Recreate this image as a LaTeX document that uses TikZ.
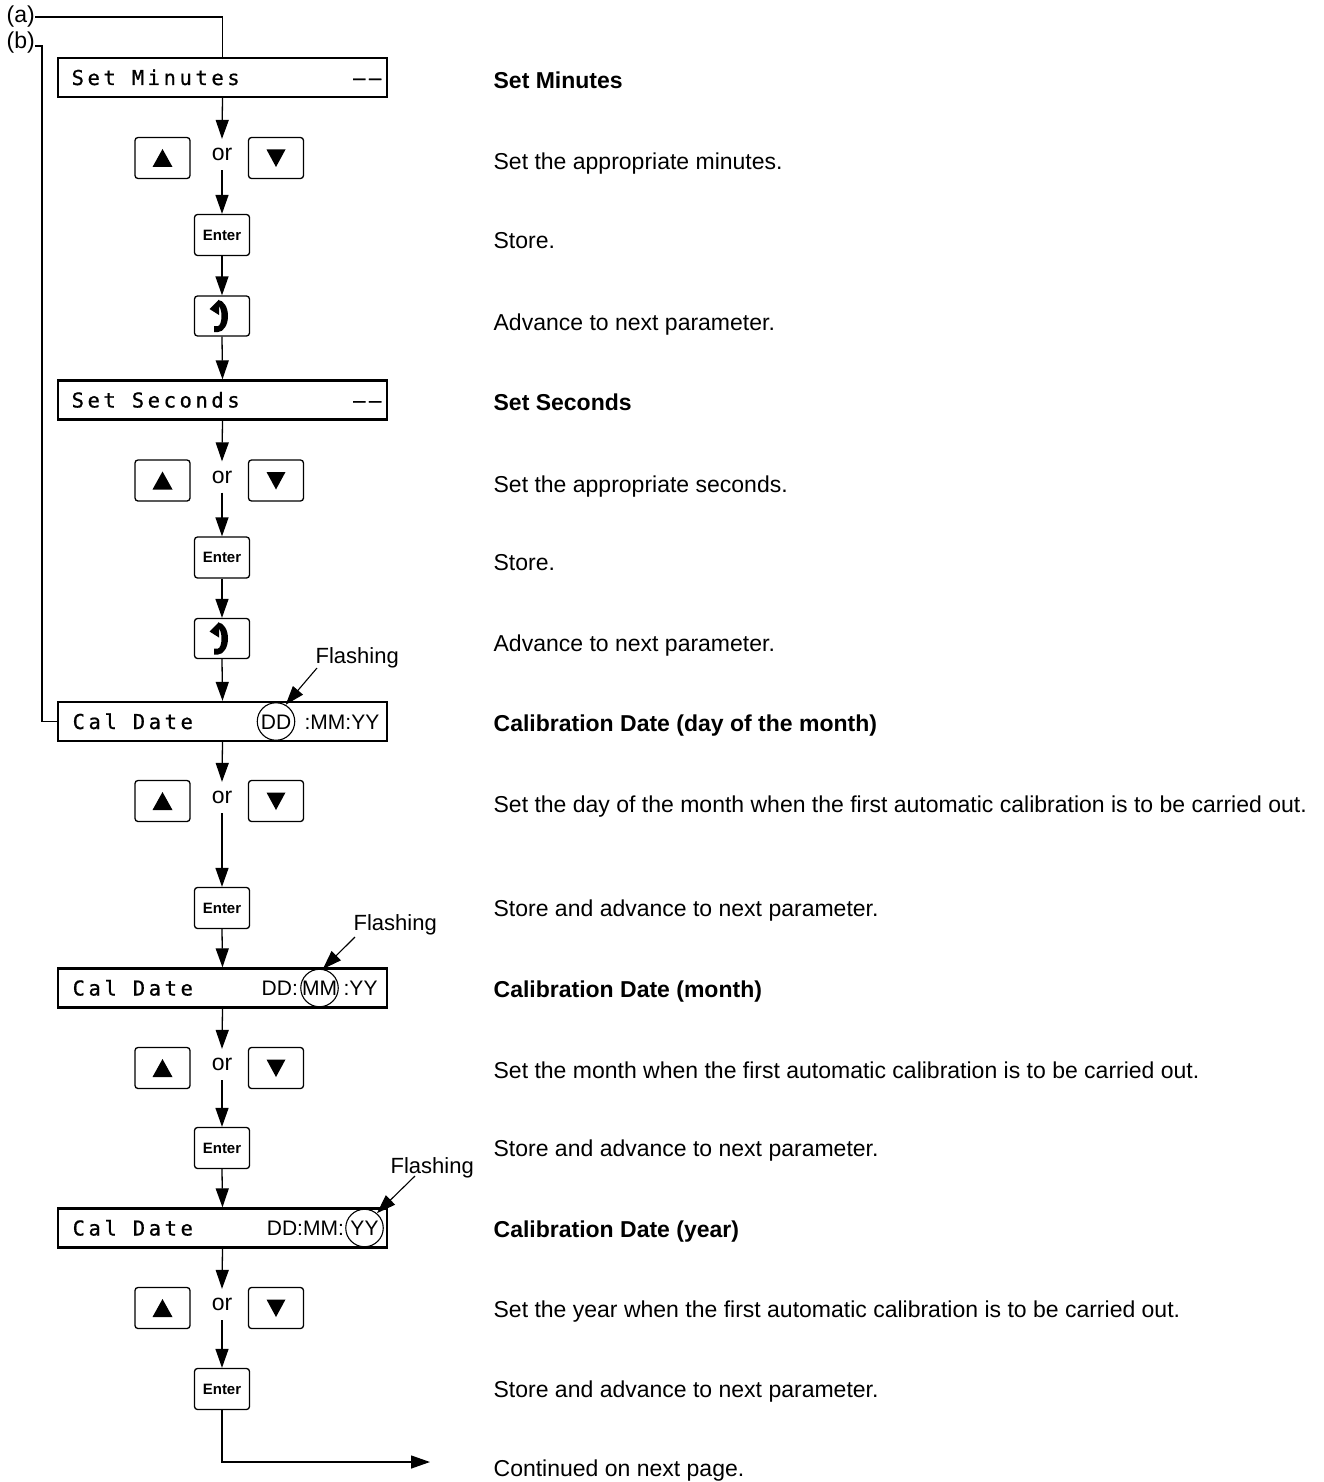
\documentclass[tikz,border=0pt]{standalone}
\usepackage{fontspec}
\setmainfont{Liberation Sans}
\newfontfamily\lcdfont[LetterSpace=17.5,FakeBold=0.8]{DejaVu Sans Mono}
\usetikzlibrary{arrows.meta,calc}
\begin{document}
\begin{tikzpicture}[x=1pt,y=-1pt,line width=1.3pt,
  flow/.style={-{Triangle[length=19pt,width=13pt]}},
  disp/.style={draw,line width=2.3pt,minimum width=329,minimum height=39,inner sep=0},
  lcd/.style={anchor=base west,inner sep=0,font=\lcdfont\fontsize{20.5}{22}\selectfont},
  val/.style={inner sep=0,font=\fontsize{21}{23}\selectfont},
  ring/.style={draw,circle,line width=1.1pt,minimum size=37.5,inner sep=0},
  btn/.style={draw,rounded corners=3pt,line width=1.3pt,minimum width=55,minimum height=41,inner sep=0},
  enter/.style={btn,font=\bfseries\fontsize{15}{17}\selectfont},
  ortext/.style={inner sep=0,minimum height=30,font=\fontsize{23}{25}\selectfont},
  rt/.style={anchor=base west,inner sep=0,font=\fontsize{23}{27}\selectfont},
  rtb/.style={rt,font=\bfseries\fontsize{23}{27}\selectfont},
  lbl/.style={inner sep=0,font=\fontsize{23}{25}\selectfont},
  flash/.style={inner sep=0,font=\fontsize{22}{24}\selectfont},
  up/.pic={\fill (-10,9) -- (10,9) -- (0,-9) -- cycle;},
  down/.pic={\fill (-9.5,-8.5) -- (9.5,-8.5) -- (0,9) -- cycle;},
  rot/.pic={\fill (-4,-16) arc[start angle=-90,end angle=90,x radius=10,y radius=16]
                 -- (-8,16) -- (-8,10) -- (-4,10)
                 arc[start angle=90,end angle=-90,x radius=3.5,y radius=10] -- cycle;
            \fill (-3,-16.5) -- (-3,-1) -- (-12.5,-7) -- cycle;}
]
\useasboundingbox (0,0) rectangle (1324,1482);

% ---------- labels (a), (b)
\node[lbl,anchor=west] (a) at (6,17) {(a)};
\node[lbl,anchor=west] (b) at (6,43) {(b)};

% ---------- displays
\node[disp] (d1) at (222.5,77.5) {};
\node[lcd] at (71,85) {Set Minutes};
\node[lcd,anchor=base east] at (382,85) {––};

\node[disp] (d2) at (222.5,400) {};
\node[lcd] at (71,407.5) {Set Seconds};
\node[lcd,anchor=base east] at (382,407.5) {––};

\node[disp] (d3) at (222.5,721.5) {};
\node[lcd] at (72,729) {Cal Date};
\node[val,anchor=base] at (276,729) {DD};
\node[val,anchor=base west] at (304,729) {:MM:YY};
\node[ring] (c1) at (276,721.5) {};

\node[disp] (d4) at (222.5,988) {};
\node[lcd] at (72,995.5) {Cal Date};
\node[val,anchor=base east] at (298.5,995.5) {DD:};
\node[val,anchor=base] at (319.5,995.5) {MM};
\node[val,anchor=base west] at (343,995.5) {:YY};
\node[ring] (c2) at (319.5,988) {};

\node[disp] (d5) at (222.5,1228) {};
\node[lcd] at (72,1235.5) {Cal Date};
\node[val,anchor=base east] at (344.5,1235.5) {DD:MM:};
\node[val,anchor=base] at (364.5,1235.5) {YY};
\node[ring] (c3) at (364.5,1228) {};

% ---------- button rows
\foreach \i/\y in {1/158,2/480.5,3/801,4/1068,5/1308}{
  \node[btn] (u\i) at (162.5,\y) {};
  \pic at (u\i.center) {up};
  \node[btn] (v\i) at (276,\y) {};
  \pic at (v\i.center) {down};
  \node[ortext] (o\i) at (222,\y-3.5) {or};
}
\node[enter] (e1) at (222,235) {Enter};
\node[enter] (e2) at (222,557.5) {Enter};
\node[enter] (e3) at (222,908) {Enter};
\node[enter] (e4) at (222,1148) {Enter};
\node[enter] (e5) at (222,1389) {Enter};
\node[btn,minimum height=40] (r1) at (222,316) {};
\pic at (r1.center) {rot};
\node[btn,minimum height=40] (r2) at (222,638.5) {};
\pic at (r2.center) {rot};

% ---------- connectors
\draw (a.east) -| (d1.north);
\coordinate (bc) at (42,721.5);
\draw ([yshift=-3pt]b.east) -| (bc) -- (d3.west);

\draw[flow] (d1.south) -- (o1.north);
\draw[flow] (o1.south) -- (e1.north);
\draw[flow] (e1.south) -- (r1.north);
\draw[flow] (r1.south) -- (d2.north);

\draw[flow] (d2.south) -- (o2.north);
\draw[flow] (o2.south) -- (e2.north);
\draw[flow] (e2.south) -- (r2.north);
\draw[flow] (r2.south) -- (d3.north);

\draw[flow] (d3.south) -- (o3.north);
\draw[flow] (o3.south) -- (e3.north);
\draw[flow] (e3.south) -- (d4.north);

\draw[flow] (d4.south) -- (o4.north);
\draw[flow] (o4.south) -- (e4.north);
\draw[flow] (e4.south) -- (d5.north);

\draw[flow] (d5.south) -- (o5.north);
\draw[flow] (o5.south) -- (e5.north);
\coordinate (cont) at (430,1462);
\draw[flow] (e5.south) |- (cont);

% ---------- flashing
\node[flash,anchor=base west] (f1) at (315,663) {Flashing};
\node[flash,anchor=base west] (f2) at (353,930) {Flashing};
\node[flash,anchor=base west] (f3) at (390,1173) {Flashing};
\coordinate (f1s) at (317,668);
\coordinate (f2s) at (355,937);
\coordinate (f3s) at (415,1176);
\draw[flow,line width=1.1pt] (f1s) -- (c1.60);
\draw[flow,line width=1.1pt] (f2s) -- (c2.80);
\draw[flow,line width=1.1pt] (f3s) -- (c3.50);

% ---------- right texts
\node[rtb] at (493,89) {Set Minutes};
\node[rt] at (493,170) {Set the appropriate minutes.};
\node[rt] at (493,248) {Store.};
\node[rt] at (493,330) {Advance to next parameter.};
\node[rtb] at (493,410) {Set Seconds};
\node[rt] at (493,492) {Set the appropriate seconds.};
\node[rt] at (493,570) {Store.};
\node[rt] at (493,651) {Advance to next parameter.};
\node[rtb] at (493,731) {Calibration Date (day of the month)};
\node[rt] at (493,812) {Set the day of the month when the first automatic calibration is to be carried out.};
\node[rt] at (493,916) {Store and advance to next parameter.};
\node[rtb] at (493,997) {Calibration Date (month)};
\node[rt] at (493,1078) {Set the month when the first automatic calibration is to be carried out.};
\node[rt] at (493,1156) {Store and advance to next parameter.};
\node[rtb] at (493,1237) {Calibration Date (year)};
\node[rt] at (493,1317) {Set the year when the first automatic calibration is to be carried out.};
\node[rt] at (493,1397) {Store and advance to next parameter.};
\node[rt] at (493,1476) {Continued on next page.};
\end{tikzpicture}
\end{document}
